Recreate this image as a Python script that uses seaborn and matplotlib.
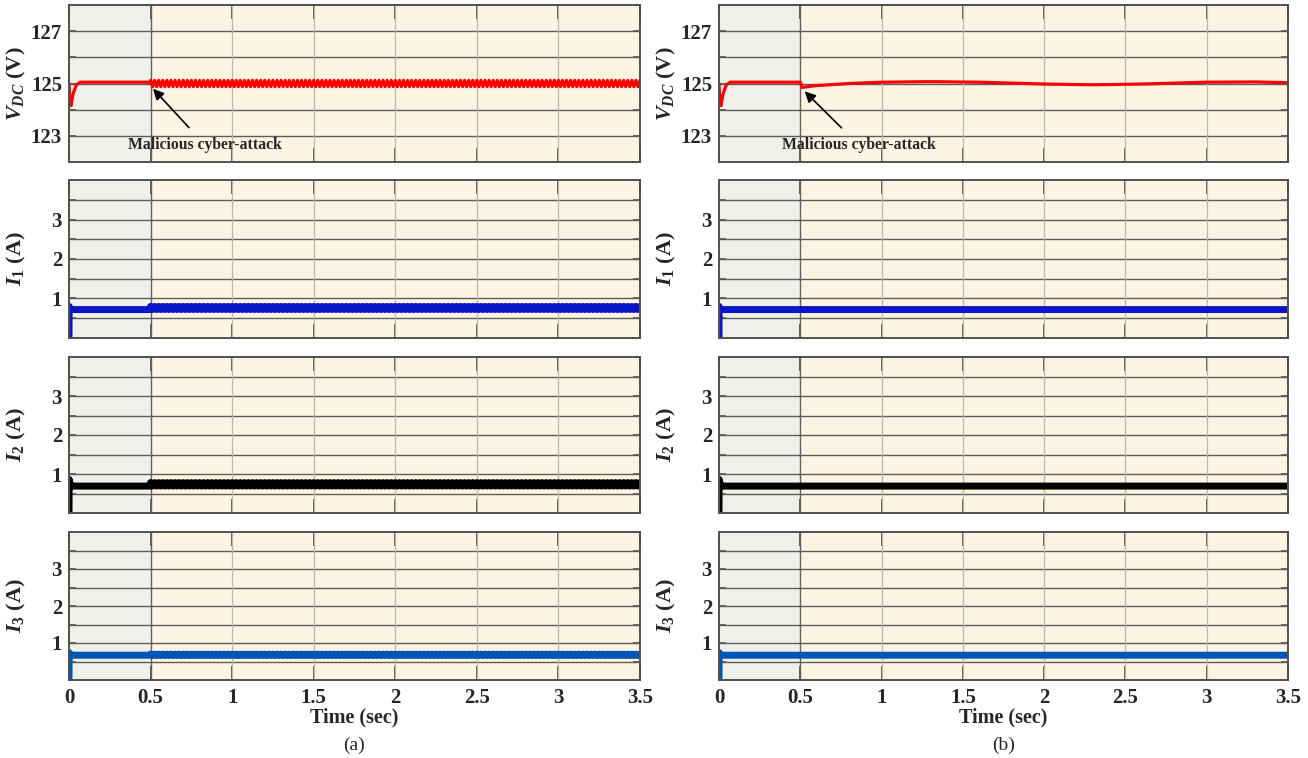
import numpy as np
import seaborn as sns
import matplotlib.pyplot as plt

# startup transient (same in (a) and (b))
t_vstart = [0.0, 0.004, 0.012, 0.025, 0.045, 0.07, 0.1, 0.5]
vdc_start = [125.0, 124.5, 124.15, 124.6, 124.95, 125.05, 125.05, 125.05]
t_istart = [0.0, 0.001, 0.005, 0.02, 0.5]
i1_start = [0.0, 0.80, 0.74, 0.72, 0.72]
i2_start = [0.0, 0.86, 0.76, 0.69, 0.69]
i3_start = [0.0, 0.74, 0.69, 0.67, 0.67]

# (a) after the attack: ripple, half period step and high/low levels
ripple_step = 0.0125
vdc_a_ripple = [125.12, 124.88]
i1_a_ripple = [0.80, 0.72]
i2_a_ripple = [0.78, 0.69]
i3_a_ripple = [0.70, 0.66]

# (b) after the attack: slow drift, flat currents
t_b_after = [0.5, 0.51, 0.6, 0.8, 1.0, 1.3, 1.6, 2.0, 2.3, 2.6, 3.0, 3.3, 3.5]
vdc_b_after = [125.05, 124.85, 124.92, 125.0, 125.05, 125.07, 125.05,
               124.98, 124.95, 124.98, 125.05, 125.06, 125.03]
t_b_flat = [0.5, 3.5]
i1_b_after = [0.72, 0.72]
i2_b_after = [0.69, 0.69]
i3_b_after = [0.67, 0.67]

xticks = [0, 0.5, 1, 1.5, 2, 2.5, 3, 3.5]
xticklabels = ['0', '0.5', '1', '1.5', '2', '2.5', '3', '3.5']

sns.set_style('white')
plt.rcParams['font.family'] = ['Liberation Serif', 'DejaVu Serif']
plt.rcParams['font.weight'] = 'bold'
plt.rcParams['mathtext.fontset'] = 'custom'
plt.rcParams['mathtext.it'] = 'Liberation Serif:italic:bold'
plt.rcParams['mathtext.rm'] = 'Liberation Serif:bold'
plt.rcParams['mathtext.bf'] = 'Liberation Serif:bold'

fig = plt.figure(figsize=(13.08, 7.58), dpi=100)
W, H = 1308.0, 758.0
rows = [(5, 162), (180, 338), (357, 513), (532, 680)]
cols = [(69, 640), (719, 1288)]


def ripple(levels):
    t = np.arange(0.5, 3.5 + 1e-9, ripple_step)
    return t, np.resize(levels, len(t))


def trace(ax, t1, y1, t2, y2, color, lw):
    t = np.concatenate([t1, t2])
    y = np.concatenate([y1, y2])
    sns.lineplot(x=t, y=y, ax=ax, color=color, linewidth=lw,
                 estimator=None, sort=False, zorder=5)


def style(ax, volt, bottom):
    ax.set_xlim(0, 3.5)
    ax.axvspan(0, 0.5, color='#eff0e9', zorder=0, lw=0)
    ax.axvspan(0.5, 3.5, color='#fdf4e3', zorder=0, lw=0)
    ax.axvline(0.5, color='#606060', lw=1.0, zorder=1)
    if volt:
        ax.set_ylim(122, 128)
        ax.set_yticks([123, 125, 127])
        ax.set_yticks([124, 126], minor=True)
    else:
        ax.set_ylim(0, 4)
        ax.set_yticks([1, 2, 3])
        ax.set_yticks([0.5, 1.5, 2.5, 3.5], minor=True)
    ax.set_xticks(xticks)
    ax.set_xticklabels(xticklabels if bottom else [])
    for y in list(ax.get_yticks()) + list(ax.get_yticks(minor=True)):
        ax.axhline(y, color='#5c5c5c', lw=1.0, zorder=1)
    for x in xticks[2:-1]:
        ax.axvline(x, color='#bdb7a8', lw=0.9, zorder=1)
    ax.tick_params(axis='x', direction='in', length=10, width=1.3,
                   top=True, bottom=True, color='#505050',
                   labelsize=15, pad=6)
    ax.tick_params(axis='y', which='both', direction='in', length=5,
                   width=1.2, left=True, right=True, color='#505050',
                   labelsize=15, pad=5)
    for lab in ax.get_xticklabels() + ax.get_yticklabels():
        lab.set_fontweight('bold')
    for s in ax.spines.values():
        s.set_color('#505050')
        s.set_linewidth(1.4)
        s.set_zorder(6)
    ax.set_xlabel('')


red = '#ff0000'
blue1 = '#0a14c8'
blue3 = '#0056b4'
ylabels = [r'$V_{DC}$ (V)', r'$I_1$ (A)', r'$I_2$ (A)', r'$I_3$ (A)']

for c, (x0, x1) in enumerate(cols):
    axes = []
    for r, (y0, y1) in enumerate(rows):
        ax = fig.add_axes([x0 / W, 1 - y1 / H, (x1 - x0) / W, (y1 - y0) / H])
        axes.append(ax)

    if c == 0:
        tr, vr = ripple(vdc_a_ripple)
        trace(axes[0], t_vstart, vdc_start, tr, vr, red, 2.3)
        for ax, st, rp, col in zip(axes[1:], [i1_start, i2_start, i3_start],
                                   [i1_a_ripple, i2_a_ripple, i3_a_ripple],
                                   [blue1, 'black', blue3]):
            tr, ir = ripple(rp)
            trace(ax, t_istart, st, tr, ir, col, 5.0)
    else:
        trace(axes[0], t_vstart, vdc_start, t_b_after, vdc_b_after, red, 2.3)
        for ax, st, af, col in zip(axes[1:], [i1_start, i2_start, i3_start],
                                   [i1_b_after, i2_b_after, i3_b_after],
                                   [blue1, 'black', blue3]):
            trace(ax, t_istart, st, t_b_flat, af, col, 5.0)

    for r, ax in enumerate(axes):
        style(ax, r == 0, r == 3)
        ax.set_ylabel(ylabels[r], fontsize=16, fontweight='bold')
        ax.yaxis.set_label_coords(-0.072, 0.5)

    if c == 0:
        axes[0].annotate('Malicious cyber-attack', xy=(0.515, 124.8),
                         xytext=(0.834, 122.65), ha='center', va='center',
                         fontsize=11.3, fontweight='bold',
                         arrowprops=dict(arrowstyle='-|>', color='black',
                                         lw=1.2, mutation_scale=16,
                                         shrinkA=6, shrinkB=0), zorder=7)
    else:
        axes[0].annotate('Malicious cyber-attack', xy=(0.527, 124.7),
                         xytext=(0.86, 122.65), ha='center', va='center',
                         fontsize=11.3, fontweight='bold',
                         arrowprops=dict(arrowstyle='-|>', color='black',
                                         lw=1.2, mutation_scale=16,
                                         shrinkA=6, shrinkB=0), zorder=7)

    xc = (x0 + x1) / 2 / W
    fig.text(xc, 1 - 717 / H, 'Time (sec)', ha='center', va='center',
             fontsize=14.5, fontweight='bold')
    fig.text(xc, 1 - 745 / H, '(a)' if c == 0 else '(b)', ha='center',
             va='center', fontsize=14, fontweight='normal')

fig.savefig('out.png', dpi=100)
